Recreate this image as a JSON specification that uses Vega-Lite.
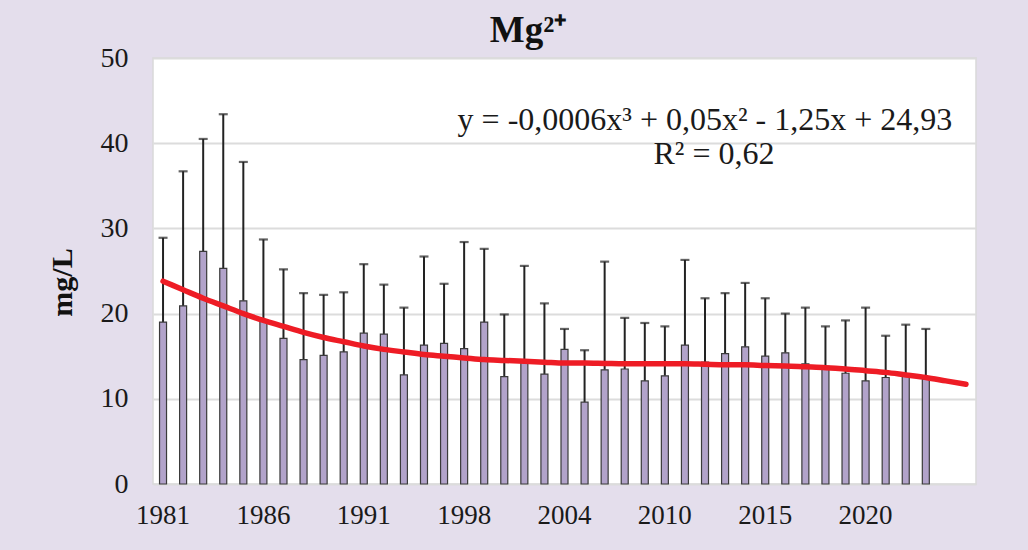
{
  "$schema": "https://vega.github.io/schema/vega-lite/v6.json",
  "autosize": {"type": "none"},
  "width": 823,
  "height": 426,
  "padding": {"left": 153, "top": 58, "right": 52, "bottom": 66},
  "background": "#E4DEEC",
  "view": {"fill": "white", "stroke": "#d9d9d9", "strokeWidth": 1.5},
  "config": {"font": "Liberation Serif"},
  "title": {
    "text": "Mg²⁺",
    "fontSize": 37,
    "fontWeight": "bold",
    "font": "Liberation Serif",
    "color": "#111",
    "anchor": "middle",
    "frame": "group",
    "dx": -36,
    "dy": 49,
    "baseline": "alphabetic",
    "offset": 14
  },
  "data": {
    "values": [
      {"year": "1981", "mean": 19.0, "upper": 28.9, "trend": 23.8},
      {"year": "1982", "mean": 20.9, "upper": 36.7, "trend": 22.8},
      {"year": "1983", "mean": 27.3, "upper": 40.5, "trend": 21.8},
      {"year": "1984", "mean": 25.3, "upper": 43.4, "trend": 20.9},
      {"year": "1985", "mean": 21.5, "upper": 37.8, "trend": 20.0},
      {"year": "1986", "mean": 19.3, "upper": 28.7, "trend": 19.2},
      {"year": "1987", "mean": 17.1, "upper": 25.2, "trend": 18.5},
      {"year": "1988", "mean": 14.6, "upper": 22.4, "trend": 17.8},
      {"year": "1989", "mean": 15.1, "upper": 22.2, "trend": 17.2},
      {"year": "1990", "mean": 15.5, "upper": 22.5, "trend": 16.7},
      {"year": "1991", "mean": 17.7, "upper": 25.8, "trend": 16.2},
      {"year": "1992", "mean": 17.6, "upper": 23.4, "trend": 15.8},
      {"year": "1993", "mean": 12.8, "upper": 20.7, "trend": 15.5},
      {"year": "1995", "mean": 16.3, "upper": 26.7, "trend": 15.2},
      {"year": "1997", "mean": 16.5, "upper": 23.5, "trend": 15.0},
      {"year": "1998", "mean": 15.9, "upper": 28.4, "trend": 14.8},
      {"year": "1999", "mean": 19.0, "upper": 27.6, "trend": 14.6},
      {"year": "2000", "mean": 12.6, "upper": 19.9, "trend": 14.5},
      {"year": "2002", "mean": 14.6, "upper": 25.6, "trend": 14.4},
      {"year": "2003", "mean": 12.9, "upper": 21.2, "trend": 14.3},
      {"year": "2004", "mean": 15.8, "upper": 18.2, "trend": 14.2},
      {"year": "2005", "mean": 9.6, "upper": 15.7, "trend": 14.2},
      {"year": "2006", "mean": 13.4, "upper": 26.1, "trend": 14.15},
      {"year": "2008", "mean": 13.5, "upper": 19.5, "trend": 14.1},
      {"year": "2009", "mean": 12.1, "upper": 18.9, "trend": 14.1},
      {"year": "2010", "mean": 12.7, "upper": 18.5, "trend": 14.1},
      {"year": "2011", "mean": 16.3, "upper": 26.3, "trend": 14.1},
      {"year": "2012", "mean": 14.3, "upper": 21.8, "trend": 14.05},
      {"year": "2013", "mean": 15.3, "upper": 22.4, "trend": 14.0},
      {"year": "2014", "mean": 16.1, "upper": 23.6, "trend": 14.0},
      {"year": "2015", "mean": 15.0, "upper": 21.8, "trend": 13.9},
      {"year": "2016", "mean": 15.4, "upper": 20.0, "trend": 13.85},
      {"year": "2017", "mean": 14.1, "upper": 20.7, "trend": 13.75},
      {"year": "2018", "mean": 13.8, "upper": 18.5, "trend": 13.65},
      {"year": "2019", "mean": 13.0, "upper": 19.2, "trend": 13.5},
      {"year": "2020", "mean": 12.1, "upper": 20.7, "trend": 13.3},
      {"year": "2021", "mean": 12.5, "upper": 17.4, "trend": 13.1},
      {"year": "2022", "mean": 12.9, "upper": 18.7, "trend": 12.8},
      {"year": "2023", "mean": 12.3, "upper": 18.2, "trend": 12.5},
      {"year": "2024", "mean": null, "upper": null, "trend": 12.1},
      {"year": "2025", "mean": null, "upper": null, "trend": 11.7}
    ]
  },
  "encoding": {
    "x": {
      "field": "year",
      "type": "ordinal",
      "scale": {"paddingInner": 0, "paddingOuter": 0},
      "axis": {
        "title": null,
        "values": ["1981", "1986", "1991", "1998", "2004", "2010", "2015", "2020"],
        "labelAngle": 0,
        "labelFontSize": 27,
        "labelColor": "#1a1a1a",
        "labelFont": "Liberation Serif",
        "labelPadding": 18,
        "ticks": false,
        "domain": false
      }
    }
  },
  "layer": [
    {
      "mark": {"type": "rule", "color": "#222", "strokeWidth": 2},
      "encoding": {
        "y": {"field": "mean", "type": "quantitative"},
        "y2": {"field": "upper"}
      }
    },
    {
      "mark": {"type": "tick", "color": "#222", "thickness": 2.2, "size": 9, "orient": "horizontal"},
      "encoding": {
        "y": {"field": "upper", "type": "quantitative"}
      }
    },
    {
      "mark": {"type": "bar", "fill": "#B2A3CA", "stroke": "#3a3a3a", "strokeWidth": 1.2, "width": 7},
      "encoding": {
        "y": {
          "field": "mean",
          "type": "quantitative",
          "scale": {"domain": [0, 50], "nice": false},
          "axis": {
            "title": "mg/L",
            "titleFontSize": 30,
            "titleFontWeight": "bold",
            "titleFont": "Liberation Serif",
            "titleColor": "#111",
            "titleX": -76,
            "titleY": 224,
            "values": [0, 10, 20, 30, 40, 50],
            "labelFontSize": 28,
            "labelColor": "#1a1a1a",
            "labelFont": "Liberation Serif",
            "labelPadding": 25,
            "ticks": false,
            "domain": false,
            "grid": true,
            "gridColor": "#dcdcdc",
            "gridWidth": 2
          }
        }
      }
    },
    {
      "mark": {"type": "line", "color": "#EE1C25", "strokeWidth": 5.5, "interpolate": "monotone", "strokeCap": "round"},
      "encoding": {
        "y": {"field": "trend", "type": "quantitative"}
      }
    },
    {
      "data": {"values": [
        {"year": "2011", "v": 42.7, "o": 30, "t": "y = -0,0006x³ + 0,05x² - 1,25x + 24,93"},
        {"year": "2012", "v": 38.7, "o": 19, "t": "R² = 0,62"}
      ]},
      "mark": {"type": "text", "fontSize": 32, "font": "Liberation Serif", "color": "#1a1a1a", "align": "center", "baseline": "middle"},
      "encoding": {
        "y": {"field": "v", "type": "quantitative"},
        "xOffset": {"field": "o", "type": "quantitative", "scale": {"domain": [0, 40], "range": [0, 40]}},
        "text": {"field": "t"}
      }
    }
  ]
}
